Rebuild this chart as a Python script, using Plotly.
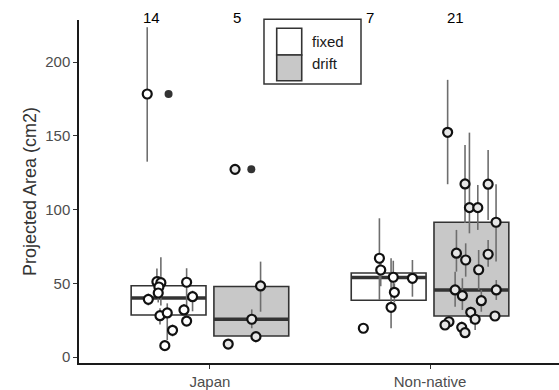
import plotly.graph_objects as go

# ---------------- data ----------------
categories = ["Japan", "Non-native"]
groups = ["fixed", "drift"]
counts = [14, 5, 7, 21]                      # Japan-fixed, Japan-drift, NN-fixed, NN-drift
count_dx = [-0.264, 0.123, -0.273, 0.114]

# Japan / fixed
jp_fixed_y  = [51.1, 50.4, 47.5, 43.4, 39.1, 28.0, 29.9, 31.9, 24.4, 18.1, 7.7, 50.7, 40.9, 178.4]
jp_fixed_lo = [44.0, 35.0, 40.0, 37.0, 35.0, 22.0, 11.5, 28.0, 22.0, 14.0, 5.0, 30.7, 31.0, 132.5]
jp_fixed_hi = [60.0, 67.6, 55.0, 50.0, 43.0, 33.0, 36.4, 36.0, 27.0, 22.0, 10.0, 60.2, 45.0, 223.7]
jp_fixed_dx = [-0.241, -0.223, -0.232, -0.235, -0.280, -0.227, -0.194, -0.118, -0.106, -0.170, -0.205, -0.106, -0.079, -0.285]

# Japan / drift
jp_drift_y  = [48.2, 25.6, 13.8, 8.8, 127.3]
jp_drift_lo = [30.7, 19.5, 10.0, 8.8, 127.3]
jp_drift_hi = [64.7, 32.3, 16.0, 8.8, 127.3]
jp_drift_dx = [0.230, 0.190, 0.209, 0.083, 0.114]

# Non-native / fixed
nn_fixed_y  = [67.0, 59.0, 54.1, 33.7, 43.9, 53.4, 19.5]
nn_fixed_lo = [38.7, 48.0, 45.0, 19.5, 37.0, 40.9, 19.5]
nn_fixed_hi = [94.1, 64.0, 65.3, 67.0, 50.0, 65.8, 19.5]
nn_fixed_dx = [-0.230, -0.224, -0.167, -0.177, -0.162, -0.080, -0.303]

# Non-native / drift
nn_drift_y  = [152.4, 117.4, 101.3, 101.3, 117.2, 91.4, 70.4, 65.8, 69.7, 59.2, 45.5,
               41.6, 45.5, 38.2, 30.3, 25.6, 27.8, 23.9, 21.7, 20.1, 16.5]
nn_drift_lo = [117.2, 90.9, 83.9, 86.2, 92.9, 64.7, 57.9, 54.5, 61.3, 45.5, 34.1,
               31.9, 38.7, 30.7, 22.9, 18.3, 27.8, 23.9, 21.7, 16.0, 16.5]
nn_drift_hi = [188.0, 143.8, 152.2, 116.7, 140.4, 117.2, 86.2, 77.1, 79.4, 72.6, 57.9,
               53.4, 52.2, 45.5, 34.1, 30.0, 27.8, 23.9, 21.7, 24.0, 16.5]
nn_drift_dx = [0.080, 0.159, 0.179, 0.217, 0.264, 0.300, 0.120, 0.162, 0.264, 0.221, 0.114,
               0.147, 0.301, 0.233, 0.185, 0.205, 0.295, 0.086, 0.068, 0.144, 0.159]

# box statistics (order: Japan-fixed, Japan-drift, NN-fixed, NN-drift)
box_q1     = [28.5, 14.2, 38.5, 27.8]
box_median = [40.0, 25.6, 54.0, 45.5]
box_q3     = [48.3, 47.8, 57.0, 91.4]
outliers   = [[178.4], [127.3], [], []]

# ---------------- styling ----------------
FONT = "Liberation Sans, Arial, sans-serif"
DODGE = 0.188
BOXW = 0.34
fills = {"fixed": "#ffffff", "drift": "#c8c8c8"}
pt_fills = {"fixed": "#ffffff", "drift": "#e6e6e6"}
DARK = "#333333"

series = [
    (0, "fixed", jp_fixed_y, jp_fixed_lo, jp_fixed_hi, jp_fixed_dx),
    (0, "drift", jp_drift_y, jp_drift_lo, jp_drift_hi, jp_drift_dx),
    (1, "fixed", nn_fixed_y, nn_fixed_lo, nn_fixed_hi, nn_fixed_dx),
    (1, "drift", nn_drift_y, nn_drift_lo, nn_drift_hi, nn_drift_dx),
]

fig = go.Figure()

# boxes
for i, (cat, grp, *_rest) in enumerate(series):
    xc = cat + (-DODGE if grp == "fixed" else DODGE)
    fig.add_trace(go.Box(
        x=[xc], q1=[box_q1[i]], median=[box_median[i]], q3=[box_q3[i]],
        lowerfence=[box_q1[i]], upperfence=[box_q3[i]],
        width=BOXW, whiskerwidth=0, boxpoints=False,
        fillcolor=fills[grp], line=dict(color=DARK, width=1.6),
        hoverinfo="skip", showlegend=False,
    ))
    # thick median
    fig.add_trace(go.Scatter(
        x=[xc - BOXW / 2, xc + BOXW / 2], y=[box_median[i], box_median[i]],
        mode="lines", line=dict(color=DARK, width=3.5),
        hoverinfo="skip", showlegend=False,
    ))
    # outliers
    if outliers[i]:
        fig.add_trace(go.Scatter(
            x=[xc] * len(outliers[i]), y=outliers[i], mode="markers",
            marker=dict(size=8, color=DARK, line=dict(width=0)),
            hoverinfo="skip", showlegend=False,
        ))

# error bars
for cat, grp, ys, lo, hi, dx in series:
    ex, ey = [], []
    for y0, y1, d in zip(lo, hi, dx):
        ex += [cat + d, cat + d, None]
        ey += [y0, y1, None]
    fig.add_trace(go.Scatter(
        x=ex, y=ey, mode="lines", line=dict(color="#6e6e6e", width=1.6),
        hoverinfo="skip", showlegend=False,
    ))

# jittered points
for cat, grp, ys, lo, hi, dx in series:
    fig.add_trace(go.Scatter(
        x=[cat + d for d in dx], y=ys, mode="markers",
        marker=dict(size=9, color=pt_fills[grp], line=dict(color="#111111", width=2.2)),
        showlegend=False,
    ))

# count labels
for k, (cat, grp, *_r) in enumerate(series):
    fig.add_annotation(
        x=cat + count_dx[k], y=1.0087, xref="x", yref="paper",
        text=str(counts[k]), showarrow=False,
        font=dict(family=FONT, size=15, color="#000000"),
        xanchor="center", yanchor="middle",
    )

# manual legend (paper coordinates)
fig.add_shape(type="rect", xref="paper", yref="paper",
              x0=0.3854, x1=0.5875, y0=0.8134, y1=1.002,
              line=dict(color=DARK, width=1.5), fillcolor="white", layer="above")
fig.add_shape(type="rect", xref="paper", yref="paper",
              x0=0.4119, x1=0.4640, y0=0.898, y1=0.9758,
              line=dict(color=DARK, width=1.6), fillcolor=fills["fixed"], layer="above")
fig.add_shape(type="rect", xref="paper", yref="paper",
              x0=0.4119, x1=0.4640, y0=0.823, y1=0.898,
              line=dict(color=DARK, width=1.6), fillcolor=fills["drift"], layer="above")
fig.add_annotation(x=0.481, y=0.9367, xref="paper", yref="paper", text=groups[0],
                   showarrow=False, xanchor="left", yanchor="middle",
                   font=dict(family=FONT, size=15, color="#1a1a1a"))
fig.add_annotation(x=0.481, y=0.8738, xref="paper", yref="paper", text=groups[1],
                   showarrow=False, xanchor="left", yanchor="middle",
                   font=dict(family=FONT, size=15, color="#1a1a1a"))

fig.update_layout(
    width=559, height=390,
    margin=dict(l=79, r=0, t=20, b=27),
    paper_bgcolor="white", plot_bgcolor="white",
    font=dict(family=FONT),
    xaxis=dict(
        range=[-0.595, 1.586], tickvals=[0, 1], ticktext=categories,
        showgrid=False, zeroline=False, showline=True, linecolor="#1a1a1a", linewidth=1.5,
        ticks="outside", ticklen=4, tickcolor="#333333", tickwidth=1.2,
        tickfont=dict(family=FONT, size=15, color="#4d4d4d"),
    ),
    yaxis=dict(
        range=[-4.07, 228.6], tickvals=[0, 50, 100, 150, 200],
        showgrid=False, zeroline=False, showline=True, linecolor="#1a1a1a", linewidth=1.5,
        ticks="outside", ticklen=4, tickcolor="#333333", tickwidth=1.2,
        tickfont=dict(family=FONT, size=15, color="#4d4d4d"),
        title=dict(text="Projected Area (cm2)", font=dict(family=FONT, size=18, color="#333333"),
                   standoff=4),
    ),
)

fig.write_html("out.html", post_script="document.body.style.margin='0';",
               config={"displayModeBar": False})
